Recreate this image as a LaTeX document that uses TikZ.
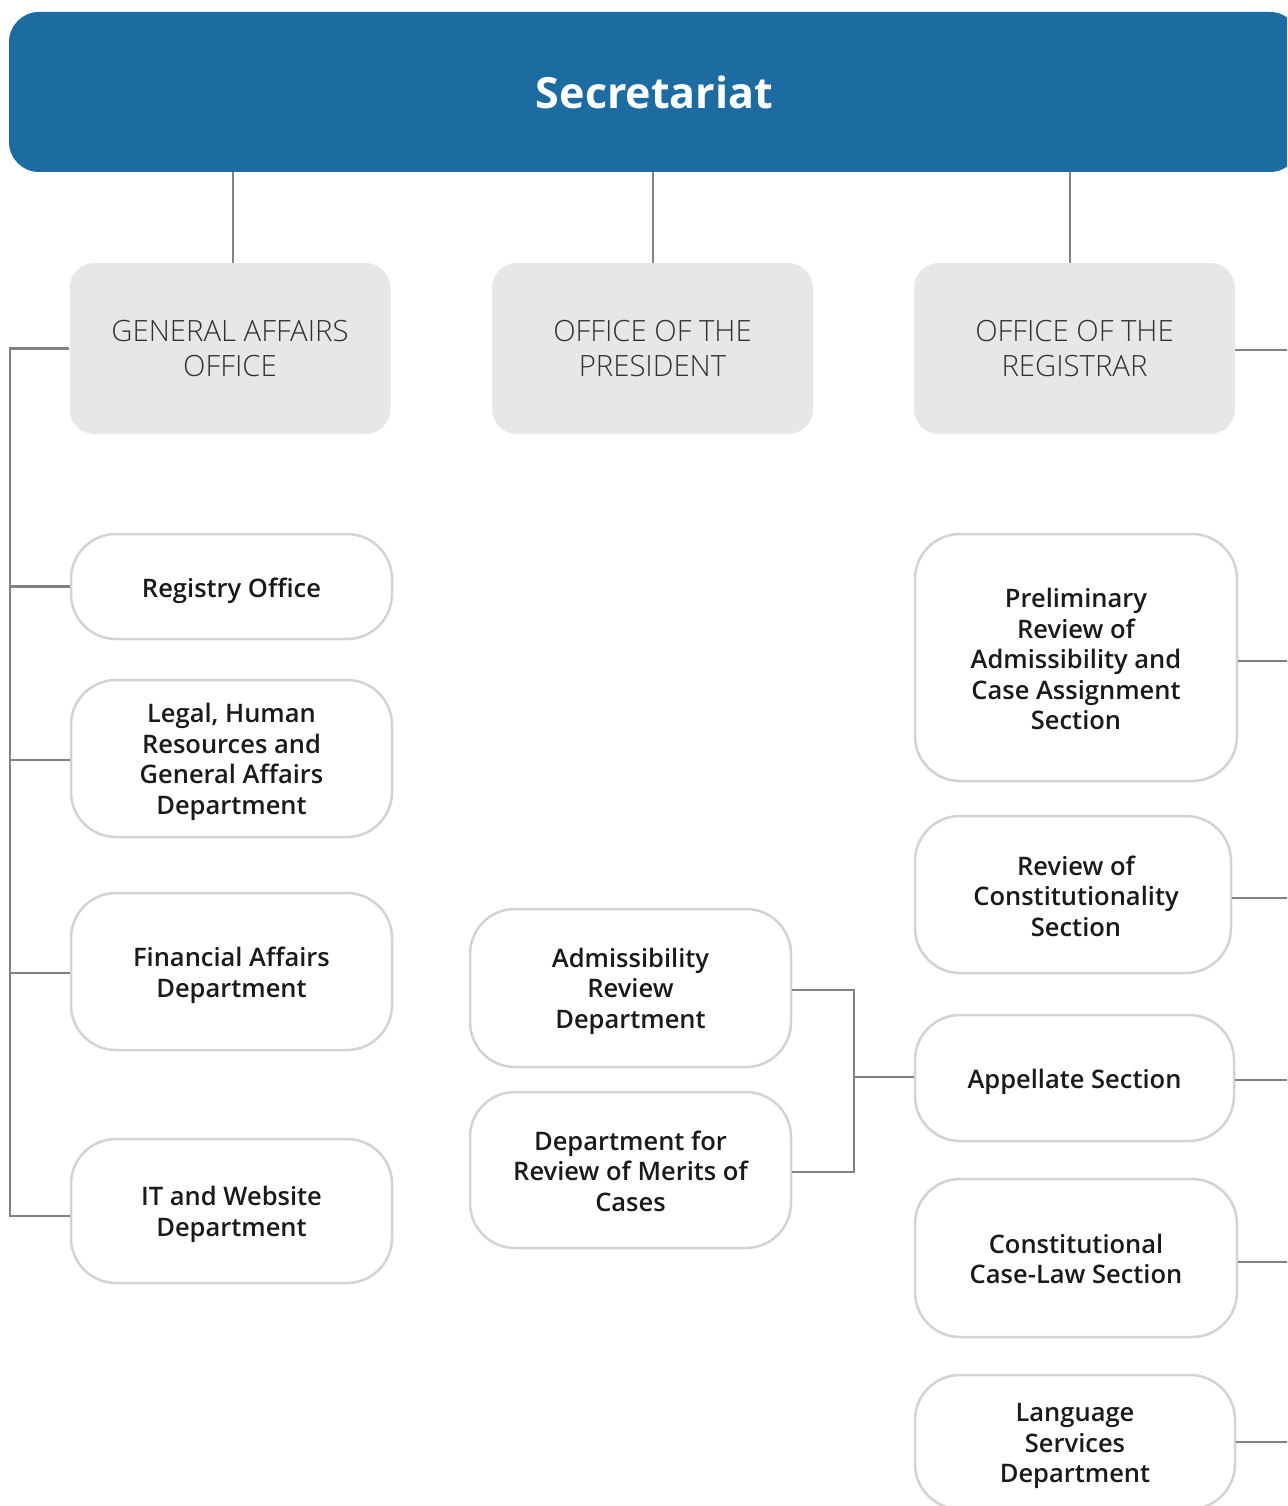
\documentclass[tikz,border=0pt]{standalone}
\usepackage{fontspec}
\setmainfont{Open Sans}
\IfFontExistsTF{Open Sans Light}{\newfontfamily\lightf{Open Sans Light}}{\newfontfamily\lightf{Open Sans}}
\IfFontExistsTF{Open Sans Semibold}{\newfontfamily\semif{Open Sans Semibold}}{\newfontfamily\semif{Open Sans}[UprightFeatures={FakeBold=1.5}]}
\newfontfamily\boldf{Open Sans}
\definecolor{bannerblue}{RGB}{28,108,161}
\definecolor{grayfill}{RGB}{230,231,232}
\definecolor{boxline}{RGB}{209,211,212}
\definecolor{conn}{RGB}{128,130,133}
\definecolor{txt}{RGB}{26,26,26}
\tikzset{
  officebox/.style={rectangle, rounded corners=25pt, fill=grayfill, minimum width=321pt, minimum height=171pt, inner sep=0pt, align=center, text=txt!90,
    font={\lightf\fontsize{29.3}{35}\selectfont}},
  unitbox/.style={rectangle, rounded corners=45pt, draw=boxline, line width=2.5pt, fill=white, minimum width=321pt, inner sep=0pt},
  unittext/.style={inner sep=0pt, align=center, text=txt, font={\semif\fontsize{25.5}{30.5}\selectfont}},
  link/.style={draw=conn, line width=2.5pt}
}
\begin{document}
\begin{tikzpicture}[x=1pt,y=-1pt]
\useasboundingbox (0,0) rectangle (1287,1506);
\clip (0,0) rectangle (1287,1506);
% banner
\node[rectangle, rounded corners=30pt, fill=bannerblue, minimum width=1291pt, minimum height=160pt, inner sep=0pt,
  text=white, font={\boldf\bfseries\fontsize{43}{50}\selectfont}] (banner) at (654.5,92) {Secretariat};
% offices
\node[officebox] (ga) at (230,348.5) {GENERAL AFFAIRS\\OFFICE};
\node[officebox] (pres) at (652.5,348.5) {OFFICE OF THE\\PRESIDENT};
\node[officebox] (reg) at (1074.5,348.5) {OFFICE OF THE\\REGISTRAR};
% left units
\node[unitbox, minimum height=105pt] (registry) at (231.5,586.5) {};
\node[unittext, yshift=-4pt] at (registry.center) {Registry Office};
\node[unitbox, minimum height=157pt] (legal) at (231.5,758.5) {};
\node[unittext, yshift=-3.5pt] at (legal.center) {Legal, Human\\Resources and\\General Affairs\\Department};
\node[unitbox, minimum height=157pt] (fin) at (231.5,971.5) {};
\node[unittext, yshift=-4pt] at (fin.center) {Financial Affairs\\Department};
\node[unitbox, minimum height=144pt] (it) at (231.5,1211) {};
\node[unittext, yshift=-3.5pt] at (it.center) {IT and Website\\Department};
% middle units
\node[unitbox, minimum height=158pt] (adm) at (630.5,988) {};
\node[unittext, yshift=-3pt] at (adm.center) {Admissibility\\Review\\Department};
\node[unitbox, minimum height=156pt] (merits) at (630.5,1170) {};
\node[unittext, yshift=-1pt] at (merits.center) {Department for\\Review of Merits of\\Cases};
% right units
\node[unitbox, minimum height=247pt, minimum width=322pt] (prelim) at (1076,657.5) {};
\node[unittext, yshift=-1.5pt] at (prelim.center) {Preliminary\\Review of\\Admissibility and\\Case Assignment\\Section};
\node[unitbox, minimum height=157pt, minimum width=316pt] (const) at (1073,894.5) {};
\node[unittext, yshift=-1.5pt, xshift=3pt] at (const.center) {Review of\\Constitutionality\\Section};
\node[unitbox, minimum height=126pt, minimum width=319pt] (app) at (1074.5,1078) {};
\node[unittext, yshift=-4pt] at (app.center) {Appellate Section};
\node[unitbox, minimum height=158pt, minimum width=322pt] (caselaw) at (1076,1258) {};
\node[unittext, yshift=-1pt] at (caselaw.center) {Constitutional\\Case-Law Section};
\node[unitbox, minimum height=134pt, minimum width=320pt] (lang) at (1075,1442) {};
\node[unittext, yshift=-4pt] at (lang.center) {Language\\Services\\Department};
% anchor points for connectors
\coordinate (itw) at ([yshift=-5pt]it.west);
\coordinate (legw) at ([yshift=-1.5pt]legal.west);
\coordinate (finw) at ([yshift=-1.5pt]fin.west);
\coordinate (adme) at ([yshift=-2pt]adm.east);
\coordinate (mere) at ([yshift=-2pt]merits.east);
\coordinate (appw) at ([yshift=1pt]app.west);
\coordinate (rege) at ([yshift=-1.5pt]reg.east);
\coordinate (prele) at ([yshift=-3.5pt]prelim.east);
\coordinate (conste) at ([yshift=-3.5pt]const.east);
\coordinate (appe) at ([yshift=-2pt]app.east);
\coordinate (case) at ([yshift=-4pt]caselaw.east);
\coordinate (bx) at (854,1077);
\coordinate (ltop) at (10,348.5);
\coordinate (redge) at (1290,0);
% banner to offices
\draw[link] (banner.south -| 233,0) -- (233,263);
\draw[link] (banner.south -| 653,0) -- (653,263);
\draw[link] (banner.south -| 1070,0) -- (1070,263);
% left trunk
\draw[link] (ga.west) -- (ltop) -- (ltop |- itw) -- (itw);
\draw[link] (registry.west) -- (registry.west -| ltop);
\draw[link] (legw) -- (legw -| ltop);
\draw[link] (finw) -- (finw -| ltop);
% middle bracket
\draw[link] (adme) -- (adme -| bx) -- (mere -| bx) -- (mere);
\draw[link] (appw) -- (appw -| bx);
% right stubs to edge
\draw[link] (rege) -- (rege -| redge);
\draw[link] (prele) -- (prele -| redge);
\draw[link] (conste) -- (conste -| redge);
\draw[link] (appe) -- (appe -| redge);
\draw[link] (case) -- (case -| redge);
\draw[link] (lang.east) -- (lang.east -| redge);
\end{tikzpicture}
\end{document}
